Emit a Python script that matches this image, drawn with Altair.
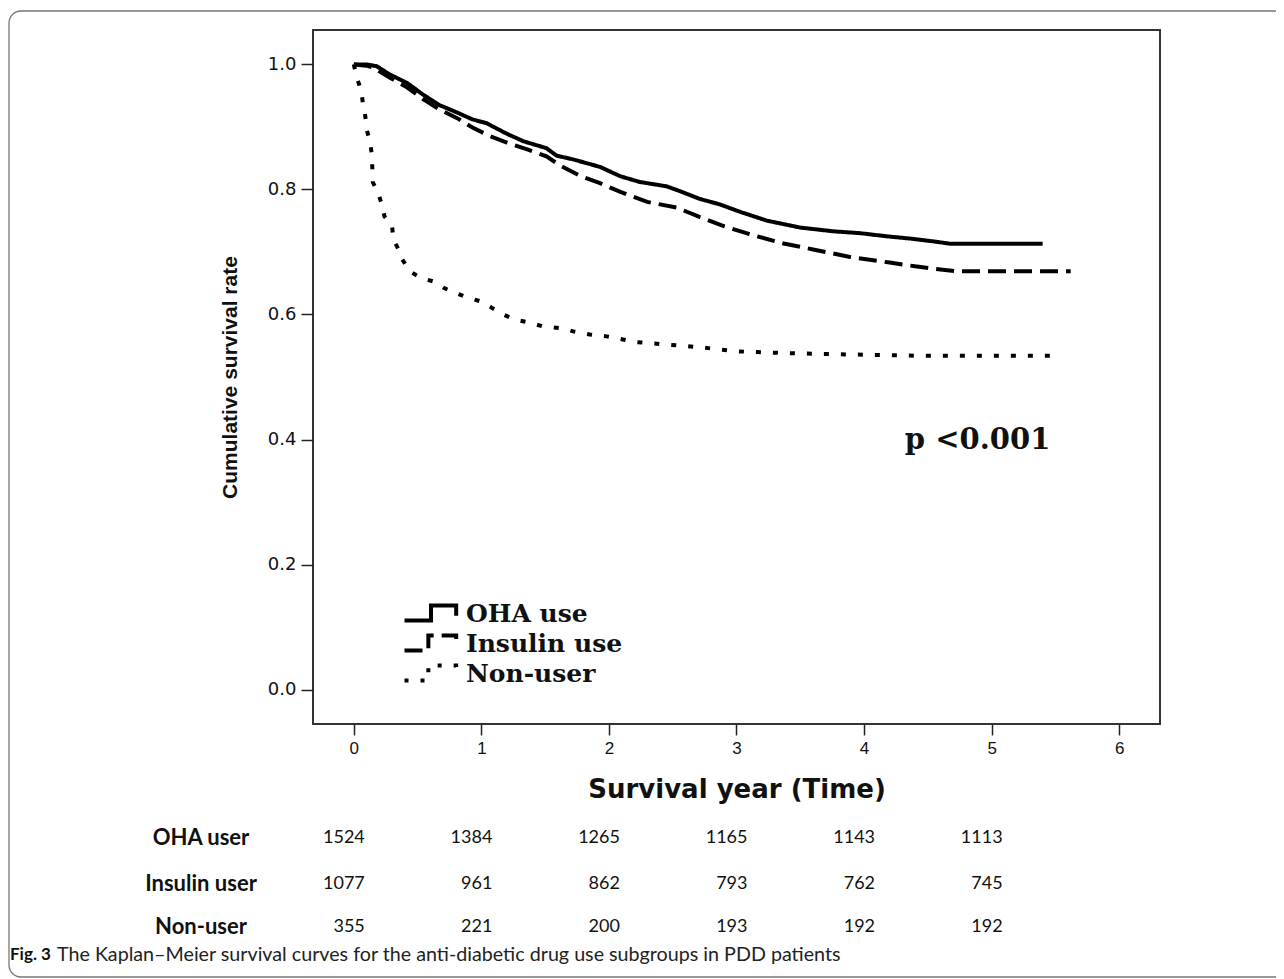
import altair as alt
import pandas as pd

# ---------------- data ----------------
groups = ["OHA use", "Insulin use", "Non-user"]

oha_t = [0, 0.10, 0.18, 0.28, 0.42, 0.54, 0.67, 0.81, 0.93, 1.04, 1.20, 1.33, 1.51, 1.59,
         1.72, 1.93, 2.09, 2.24, 2.45, 2.56, 2.71, 2.87, 3.03, 3.24, 3.50, 3.76, 3.97, 4.18,
         4.38, 4.54, 4.68, 5.40]
oha_s = [1.0, 1.0, 0.997, 0.984, 0.970, 0.952, 0.935, 0.923, 0.912, 0.906, 0.889, 0.877,
         0.866, 0.854, 0.848, 0.836, 0.821, 0.812, 0.805, 0.797, 0.785, 0.776, 0.764, 0.750,
         0.739, 0.733, 0.730, 0.725, 0.721, 0.717, 0.713, 0.713]

ins_t = [0, 0.10, 0.15, 0.28, 0.42, 0.54, 0.67, 0.81, 0.93, 1.07, 1.20, 1.36, 1.51, 1.62,
         1.77, 1.93, 2.09, 2.30, 2.53, 2.71, 2.89, 3.11, 3.36, 3.60, 3.89, 4.20, 4.40, 4.60,
         4.73, 5.62]
ins_s = [1.0, 0.998, 0.995, 0.979, 0.963, 0.945, 0.928, 0.914, 0.899, 0.885, 0.875, 0.864,
         0.853, 0.838, 0.822, 0.810, 0.796, 0.780, 0.771, 0.756, 0.742, 0.728, 0.714, 0.704,
         0.692, 0.683, 0.677, 0.672, 0.669, 0.669]

non_t = [0, 0.02, 0.06, 0.07, 0.09, 0.10, 0.13, 0.14, 0.145, 0.15, 0.19, 0.22, 0.24, 0.30,
         0.31, 0.35, 0.38, 0.44, 0.52, 0.62, 0.70, 0.79, 0.89, 1.01, 1.08, 1.17, 1.26, 1.38,
         1.48, 1.63, 1.72, 1.85, 1.98, 2.11, 2.20, 2.45, 2.74, 3.00, 3.42, 3.90, 4.44, 5.55]
non_s = [1.0, 0.981, 0.957, 0.939, 0.917, 0.896, 0.875, 0.856, 0.835, 0.811, 0.795, 0.776,
         0.757, 0.741, 0.720, 0.704, 0.688, 0.669, 0.659, 0.653, 0.643, 0.635, 0.627, 0.620,
         0.611, 0.600, 0.592, 0.587, 0.581, 0.578, 0.573, 0.568, 0.565, 0.560, 0.556, 0.552,
         0.547, 0.541, 0.538, 0.536, 0.534, 0.534]

risk_years = [0, 1, 2, 3, 4, 5]
risk_labels = ["OHA user", "Insulin user", "Non-user"]
risk_oha = [1524, 1384, 1265, 1165, 1143, 1113]
risk_ins = [1077, 961, 862, 793, 762, 745]
risk_non = [355, 221, 200, 193, 192, 192]

p_text = ["p <0.001"]
p_t = [4.89]
p_s = [0.40]

x_ticks = [0, 1, 2, 3, 4, 5, 6]
y_ticks = [0.0, 0.2, 0.4, 0.6, 0.8, 1.0]

caption_bold = "Fig. 3"
caption_text = "The Kaplan\u2013Meier survival curves for the anti-diabetic drug use subgroups in PDD patients"

# ---------------- tables ----------------
rows = []
for g, ts, ss in zip(groups, [oha_t, ins_t, non_t], [oha_s, ins_s, non_s]):
    for t, s in zip(ts, ss):
        rows.append({"group": g, "t": t, "s": s})
curves = pd.DataFrame(rows)

W, H = 847, 694
x_scale = alt.Scale(domain=[-0.32, 6.32], nice=False, zero=False)
y_scale = alt.Scale(domain=[-0.055, 1.055], nice=False, zero=False)
dash_scale = alt.Scale(domain=groups, range=[[1, 0], [18, 8], [5, 12]])

base_axis = dict(domain=False, grid=False, tickColor="#222", tickWidth=1.5,
                 labelColor="#111", titleColor="#111")

lines = alt.Chart(curves).mark_line(color="black", strokeWidth=4, strokeCap="butt").encode(
    x=alt.X("t:Q", scale=x_scale,
            axis=alt.Axis(values=x_ticks, format="d", title="Survival year (Time)",
                          tickSize=11, labelPadding=5, labelFont="Liberation Sans",
                          labelFontSize=17, titleFont="DejaVu Sans", titleFontSize=26,
                          titleFontWeight="bold", titlePadding=20, **base_axis)),
    y=alt.Y("s:Q", scale=y_scale,
            axis=alt.Axis(values=y_ticks, format=".1f", title="Cumulative survival rate",
                          tickSize=12, labelPadding=5, labelFont="DejaVu Sans",
                          labelFontSize=18, titleFont="Liberation Sans",
                          titleFontSize=21, titleFontWeight="bold", titlePadding=27,
                          **base_axis)),
    strokeDash=alt.StrokeDash("group:N", scale=dash_scale, legend=None),
    detail="group:N",
)

p_df = pd.DataFrame({"t": p_t, "s": p_s, "label": p_text})
p_val = alt.Chart(p_df).mark_text(font="DejaVu Serif", fontWeight="bold", fontSize=29,
                                   color="#111", align="center", baseline="middle").encode(
    x=alt.X("t:Q", scale=x_scale), y=alt.Y("s:Q", scale=y_scale), text="label:N")

# manual legend (step-shaped icons like the SPSS legend)
icon_paths = ["M-1,0.28H0V-0.28H0.95V0.1",
              "M-1,0.28H-0.1V-0.28H0.95V0.15",
              "M-1,0.28H-0.1V-0.28H0.95V0.15"]
icon_dash = [[1, 0], [18, 8], [4, 12]]
legend_rows = [583, 613, 643]
legend_layers = []
for g, path, dash, yy in zip(groups, icon_paths, icon_dash, legend_rows):
    d = pd.DataFrame({"label": [g]})
    legend_layers.append(
        alt.Chart(d).mark_point(shape=path, size=2809, filled=False, color="black",
                                strokeWidth=4, strokeDash=dash, opacity=1).encode(
            x=alt.value(118), y=alt.value(yy)))
    legend_layers.append(
        alt.Chart(d).mark_text(font="DejaVu Serif", fontWeight="bold", fontSize=25,
                               color="#111", align="left", baseline="middle").encode(
            x=alt.value(153), y=alt.value(yy + 1), text="label:N"))

# number-at-risk table
risk_layers = []
risk_rows_y = [808, 854, 897]
for lab, vals, yy in zip(risk_labels, [risk_oha, risk_ins, risk_non], risk_rows_y):
    d = pd.DataFrame({"year": risk_years, "n": [str(v) for v in vals]})
    risk_layers.append(
        alt.Chart(d).mark_text(font="Lato", fontSize=18, color="#111", align="right",
                               baseline="middle", dx=11).encode(
            x=alt.X("year:Q", scale=x_scale), y=alt.value(yy), text="n:N"))
    risk_layers.append(
        alt.Chart(pd.DataFrame({"label": [lab]})).mark_text(
            font="Lato", fontWeight="bold", fontSize=22, color="#111", align="center",
            baseline="middle").encode(x=alt.value(-112), y=alt.value(yy), text="label:N"))

cap = pd.DataFrame({"a": [caption_bold], "b": [caption_text]})
cap_bold = alt.Chart(cap).mark_text(font="Lato", fontWeight="bold", fontSize=17, color="#111",
                                    align="left", baseline="middle").encode(
    x=alt.value(-303), y=alt.value(925), text="a:N")
cap_reg = alt.Chart(cap).mark_text(font="Lato", fontSize=19.7, color="#222",
                                   align="left", baseline="middle").encode(
    x=alt.value(-256), y=alt.value(925), text="b:N")

frame = alt.Chart(pd.DataFrame({"k": [1]})).mark_rect(
    fillOpacity=0, stroke="#777", strokeWidth=1.3, cornerRadius=12).encode(
    x=alt.value(-304), x2=alt.value(1000), y=alt.value(-19), y2=alt.value(947))

chart = alt.layer(frame, lines, p_val, *legend_layers, *risk_layers, cap_bold, cap_reg).properties(
    width=W, height=H,
    padding={"left": 305, "top": 22, "right": 116, "bottom": 255},
    autosize=alt.AutoSizeParams(type="none"),
    background="white",
).configure_view(stroke="#333", strokeWidth=2)

chart.save("out.html", embed_options={"renderer": "svg", "actions": False})
